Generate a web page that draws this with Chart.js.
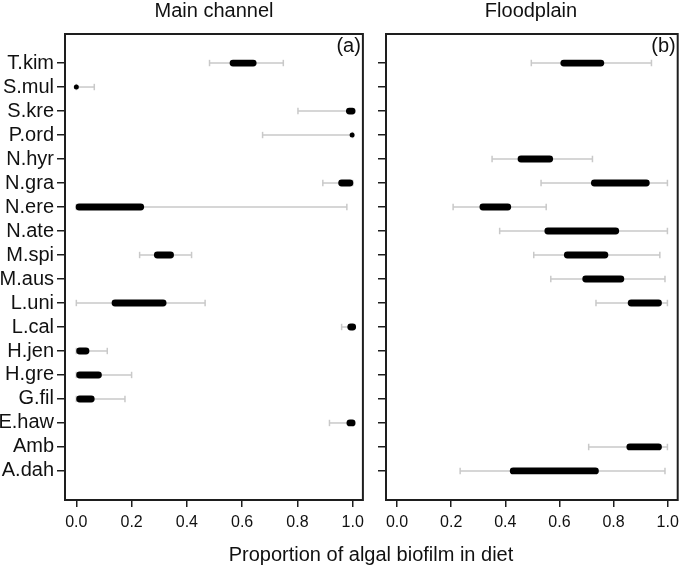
<!DOCTYPE html>
<html lang="en">
<head>
<meta charset="UTF-8">
<title>Algal biofilm in diet</title>
<style>
  body { margin: 0; background: #fff; font-family: "Liberation Sans", Arial, sans-serif; color: #111; }
  #wrap { position: relative; width: 685px; height: 568px; overflow: hidden; }
  canvas { position: absolute; top: 0; }
  .lbl { position: absolute; font-size: 20px; line-height: 20px; white-space: nowrap; text-align: center; }
</style>
</head>
<body>
<div id="wrap">
  <canvas id="chartA" width="370" height="568" style="left:0"></canvas>
  <canvas id="chartB" width="315" height="568" style="left:370px"></canvas>
  <div class="lbl" style="left:114px;width:200px;top:0px">Main channel</div>
  <div class="lbl" style="left:431px;width:200px;top:0px">Floodplain</div>
  <div class="lbl" style="left:171px;width:400px;top:544px">Proportion of algal biofilm in diet</div>
</div>

<script src="https://cdn.jsdelivr.net/npm/chart.js@4.4.0/dist/chart.umd.min.js"></script>
<script>
// species, top to bottom
const species = ['T.kim','S.mul','S.kre','P.ord','N.hyr','N.gra','N.ere','N.ate','M.spi',
                 'M.aus','L.uni','L.cal','H.jen','H.gre','G.fil','E.haw','Amb','A.dah'];
const xTicks = [0, 0.2, 0.4, 0.6, 0.8, 1.0];

// main channel: outer (grey) and inner (black) intervals, null = not sampled
const mainOuterLo = [0.482, 0.0,   0.802, 0.674, null, 0.892, 0.0,   null, 0.229, null, 0.0,   0.960, 0.0,   0.0,   0.0,   0.916, null, null];
const mainOuterHi = [0.749, 0.065, 1.0,   1.0,   null, 1.0,   0.979, null, 0.417, null, 0.466, 1.0,   0.112, 0.200, 0.176, 1.0,   null, null];
const mainInnerLo = [0.567, 0.0,   0.988, 0.998, null, 0.960, 0.010, null, 0.293, null, 0.140, 0.993, 0.012, 0.012, 0.012, 0.990, null, null];
const mainInnerHi = [0.640, 0.002, 0.998, 1.0,   null, 0.990, 0.233, null, 0.341, null, 0.314, 1.0,   0.035, 0.080, 0.054, 0.998, null, null];

// floodplain
const floodOuterLo = [0.496, null, null, null, 0.351, 0.532, 0.207, 0.379, 0.505, 0.568, 0.735, null, null, null, null, null, 0.708, 0.233];
const floodOuterHi = [0.940, null, null, null, 0.722, 0.999, 0.551, 0.999, 0.971, 0.990, 0.999, null, null, null, null, null, 0.999, 0.990];
const floodInnerLo = [0.616, null, null, null, 0.458, 0.729, 0.317, 0.557, 0.629, 0.697, 0.865, null, null, null, null, null, 0.860, 0.429];
const floodInnerHi = [0.753, null, null, null, 0.564, 0.921, 0.409, 0.808, 0.768, 0.827, 0.966, null, null, null, null, null, 0.966, 0.733];

const GREY = '#c9c9c9';
const INK = '#1e1e1e';
const FONT = '"Liberation Sans", Arial, sans-serif';

function buildDatasets(oLo, oHi, iLo, iHi) {
  const sets = [];
  species.forEach((s, i) => {
    if (oLo[i] === null) return;
    sets.push({
      data: [{x: oLo[i], y: i}, {x: oHi[i], y: i}],
      showLine: true,
      borderColor: GREY,
      borderWidth: 1.5,
      pointStyle: 'line',
      rotation: 90,
      pointRadius: 3.2,
      pointBorderWidth: 1.5,
      pointBorderColor: GREY,
      order: 2
    });
    const tiny = (iHi[i] - iLo[i]) < 0.005;
    sets.push({
      data: [{x: iLo[i], y: i}, {x: iHi[i], y: i}],
      showLine: true,
      borderColor: '#000',
      borderWidth: tiny ? 5 : 6.8,
      borderCapStyle: 'round',
      pointRadius: 0,
      order: 1
    });
  });
  return sets;
}

function frame(tag) {
  return {
    id: 'frame',
    afterDraw(chart) {
      const a = chart.chartArea, c = chart.ctx;
      c.save();
      c.strokeStyle = INK;
      c.lineWidth = 2;
      c.strokeRect(a.left, a.top, a.right - a.left, a.bottom - a.top);
      c.fillStyle = '#111';
      c.font = '20px ' + FONT;
      c.textAlign = 'right';
      c.textBaseline = 'top';
      c.fillText(tag, a.right - 2, a.top + 2);
      c.restore();
    }
  };
}

function makeChart(id, datasets, yWidth, padRight, showLabels, tag) {
  return new Chart(document.getElementById(id), {
    type: 'scatter',
    data: { datasets: datasets },
    options: {
      responsive: false,
      animation: false,
      layout: { padding: { top: 34, right: padRight, left: 0, bottom: 0 } },
      plugins: { legend: { display: false }, tooltip: { enabled: false } },
      scales: {
        x: {
          type: 'linear',
          min: -0.041,
          max: 1.037,
          afterBuildTicks: axis => { axis.ticks = xTicks.map(v => ({ value: v })); },
          afterFit: axis => { axis.height = 68; },
          ticks: {
            color: '#111',
            padding: 6,
            font: { family: FONT, size: 16 },
            callback: v => Number(v).toFixed(1)
          },
          grid: { drawOnChartArea: false, drawTicks: true, tickLength: 7, color: INK, lineWidth: 1.5 },
          border: { display: false }
        },
        y: {
          type: 'linear',
          reverse: true,
          min: -1.21,
          max: 18.21,
          afterBuildTicks: axis => { axis.ticks = species.map((s, i) => ({ value: i })); },
          afterFit: axis => { axis.width = yWidth; },
          ticks: {
            color: '#111',
            padding: 3,
            font: { family: FONT, size: 20 },
            callback: v => showLabels ? species[v] : ''
          },
          grid: { drawOnChartArea: false, drawTicks: true, tickLength: 8, color: INK, lineWidth: 1.5 },
          border: { display: false }
        }
      }
    },
    plugins: [frame(tag)]
  });
}

makeChart('chartA', buildDatasets(mainOuterLo, mainOuterHi, mainInnerLo, mainInnerHi), 65, 6, true, '(a)');
makeChart('chartB', buildDatasets(floodOuterLo, floodOuterHi, floodInnerLo, floodInnerHi), 16, 2, false, '(b)');
</script>
</body>
</html>
